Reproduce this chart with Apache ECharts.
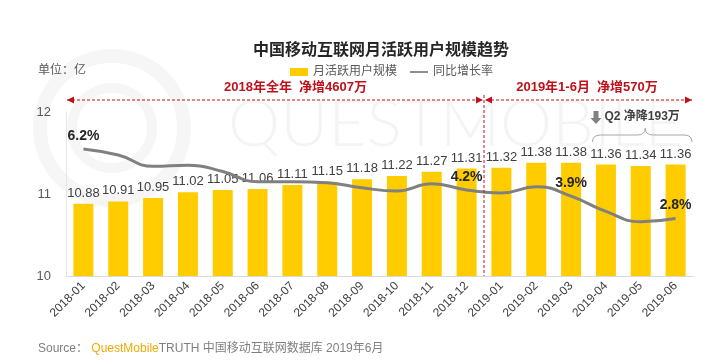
<!DOCTYPE html>
<html><head><meta charset="utf-8">
<script src="https://cdn.jsdelivr.net/npm/echarts@6/dist/echarts.min.js"></script>
<style>html,body{margin:0;padding:0;background:#fff}#c{width:711px;height:364px}</style>
</head><body><div id="c"></div>
<script>
var categories = ['2018-01','2018-02','2018-03','2018-04','2018-05','2018-06','2018-07','2018-08','2018-09','2018-10','2018-11','2018-12','2019-01','2019-02','2019-03','2019-04','2019-05','2019-06'];
var mau = [10.88,10.91,10.95,11.02,11.05,11.06,11.11,11.15,11.18,11.22,11.27,11.31,11.32,11.38,11.38,11.36,11.34,11.36];
var yoy = [6.2,5.9,5.35,5.4,5.1,4.6,4.6,4.55,4.3,4.15,4.5,4.2,4.05,4.35,3.9,3.15,2.65,2.8];
var yoyLabelIdx = [0,11,14,17];
var yTicks = [10,11,12];
var FONT = '"Liberation Sans","Noto Sans CJK SC",sans-serif';
var chart = echarts.init(document.getElementById('c'));
var lineData = yoy.map(function(v,i){
  var o = {value:v};
  if (yoyLabelIdx.indexOf(i) >= 0) {
    o.label = {show:true, position:'top', distance:6, formatter: v.toFixed(1)+'%', fontWeight:'bold', fontSize:14, color:'#262626', fontFamily:FONT};
  }
  return o;
});
chart.setOption({
  animation:false,
  textStyle:{fontFamily:FONT},
  title:{text:'中国移动互联网月活跃用户规模趋势', left:376, textAlign:'center', top:38,
    textStyle:{fontSize:16, fontWeight:'bold', color:'#262626', fontFamily:FONT}},
  legend:{left:285, top:61, itemWidth:18, itemHeight:8, itemGap:13,
    textStyle:{fontSize:12, color:'#595959', fontFamily:FONT},
    data:[{name:'月活跃用户规模', icon:'rect'},{name:'同比增长率', icon:'path://M0,4L20,4L20,6L0,6Z'}]},
  grid:{left:66, right:18, top:112, bottom:88},
  xAxis:{type:'category', data:categories,
    axisLine:{lineStyle:{color:'#d9d9d9'}}, axisTick:{show:false},
    axisLabel:{rotate:45, fontSize:12, color:'#404040', margin:8, interval:0, fontFamily:FONT}},
  yAxis:[{type:'value', min:yTicks[0], max:yTicks[yTicks.length-1], interval:1,
    axisLine:{show:true, lineStyle:{color:'#e6e6e6'}}, axisTick:{show:false}, splitLine:{show:false},
    axisLabel:{fontSize:13, color:'#595959', margin:15, fontFamily:FONT}},
   {type:'value', min:0, max:8, show:false, splitLine:{show:false}}],
  series:[
    {name:'月活跃用户规模', type:'bar', data:mau, barWidth:20, itemStyle:{color:'#FFCC00'}, z:2,
     label:{show:true, position:'top', distance:4, fontSize:13, color:'#404040', fontFamily:FONT}},
    {name:'同比增长率', type:'line', yAxisIndex:1, data:lineData, smooth:0.5, symbol:'circle', symbolSize:0.1, showSymbol:true,
     lineStyle:{color:'#808080', width:3}, itemStyle:{color:'#808080'}, z:3}
  ]
});

var p0 = chart.convertToPixel({xAxisIndex:0}, 0);
var p1 = chart.convertToPixel({xAxisIndex:0}, 1);
var band = p1 - p0;
var iLast = categories.length-1;
var pEnd = chart.convertToPixel({xAxisIndex:0}, iLast);
var p11 = chart.convertToPixel({xAxisIndex:0}, 11);
var leftX = p0 - band/2 + 1;
var rightX = pEnd + band/2 - 1;
var midX = p11 + band/2;
var topY = chart.convertToPixel({yAxisIndex:0}, yTicks[yTicks.length-1]);
var botY = chart.convertToPixel({yAxisIndex:0}, yTicks[0]);
var aY = topY - 12;
var RED = '#C0101A';
var p15 = chart.convertToPixel({xAxisIndex:0}, 15);
var braceL = p15 - band/2 + 4, braceR = rightX, braceM = (braceL+braceR)/2 + 3;
var by = aY + 35;
function arrowHead(x, y, dir){
  return {type:'polygon', shape:{points:[[x,y],[x-dir*7,y-3.5],[x-dir*7,y+3.5]]}, style:{fill:RED}, z:10};
}
var bStyle = {fill:'none', stroke:'#a6a6a6', lineWidth:1};
chart.setOption({graphic:[
  {type:'circle', shape:{cx:112, cy:128, r:72}, style:{fill:'none', stroke:'rgba(0,0,0,0.035)', lineWidth:14}, z:-10, silent:true},
  {type:'circle', shape:{cx:112, cy:128, r:40}, style:{fill:'none', stroke:'rgba(0,0,0,0.035)', lineWidth:10}, z:-10, silent:true},
  {type:'text', x:228, y:92, style:{text:'QUESTMOBILE', fontSize:66, fontWeight:300, fontFamily:'Lato', fill:'rgba(0,0,0,0.045)'}, z:-10, silent:true},
  {type:'text', x:38, y:65, style:{text:'单位：亿', fontSize:12, fill:'#595959', fontFamily:FONT}},
  {type:'line', shape:{x1:leftX, y1:aY, x2:midX-2, y2:aY}, style:{stroke:RED, lineWidth:1.2, lineDash:[3,2]}, z:10},
  {type:'line', shape:{x1:midX+2, y1:aY, x2:rightX, y2:aY}, style:{stroke:RED, lineWidth:1.2, lineDash:[3,2]}, z:10},
  arrowHead(leftX, aY, -1), arrowHead(midX-1, aY, 1), arrowHead(midX+1, aY, -1), arrowHead(rightX, aY, 1),
  {type:'line', shape:{x1:midX, y1:aY-5, x2:midX, y2:botY}, style:{stroke:RED, lineWidth:1, lineDash:[3,2]}, z:10},
  {type:'text', x:(leftX+midX)/2+20, y:aY-6, style:{text:'2018年全年  净增4607万', fontSize:13, fontWeight:'bold', fill:RED, align:'center', verticalAlign:'bottom', fontFamily:FONT}, z:10},
  {type:'text', x:(midX+rightX)/2-1, y:aY-6, style:{text:'2019年1-6月  净增570万', fontSize:13, fontWeight:'bold', fill:RED, align:'center', verticalAlign:'bottom', fontFamily:FONT}, z:10},
  {type:'polygon', shape:{points:[[braceL+1,aY+11],[braceL+6,aY+11],[braceL+6,aY+18],[braceL+9,aY+18],[braceL+3.5,aY+24],[braceL-2,aY+18],[braceL+1,aY+18]]}, style:{fill:'#808080'}, z:10},
  {type:'text', x:braceL+12, y:aY+17, style:{text:'Q2 净降193万', fontSize:12, fontWeight:'bold', fill:'#404040', verticalAlign:'middle', fontFamily:FONT}, z:10},
  {type:'bezierCurve', shape:{x1:braceL, y1:by+7, x2:braceL+8, y2:by, cpx1:braceL, cpy1:by}, style:bStyle, z:10},
  {type:'line', shape:{x1:braceL+8, y1:by, x2:braceM-8, y2:by}, style:bStyle, z:10},
  {type:'bezierCurve', shape:{x1:braceM-8, y1:by, x2:braceM, y2:by-7, cpx1:braceM, cpy1:by}, style:bStyle, z:10},
  {type:'bezierCurve', shape:{x1:braceM, y1:by-7, x2:braceM+8, y2:by, cpx1:braceM, cpy1:by}, style:bStyle, z:10},
  {type:'line', shape:{x1:braceM+8, y1:by, x2:braceR-8, y2:by}, style:bStyle, z:10},
  {type:'bezierCurve', shape:{x1:braceR-8, y1:by, x2:braceR, y2:by+7, cpx1:braceR, cpy1:by}, style:bStyle, z:10},
  {type:'text', x:38, y:343, style:{rich:{a:{fontSize:12, fill:'#7f7f7f', fontFamily:FONT}, b:{fontSize:12, fill:'#F2A900', fontFamily:FONT}},
    text:'{a|Source： }{b|QuestMobile}{a|TRUTH 中国移动互联网数据库 2019年6月}'}}
]});
</script></body></html>
